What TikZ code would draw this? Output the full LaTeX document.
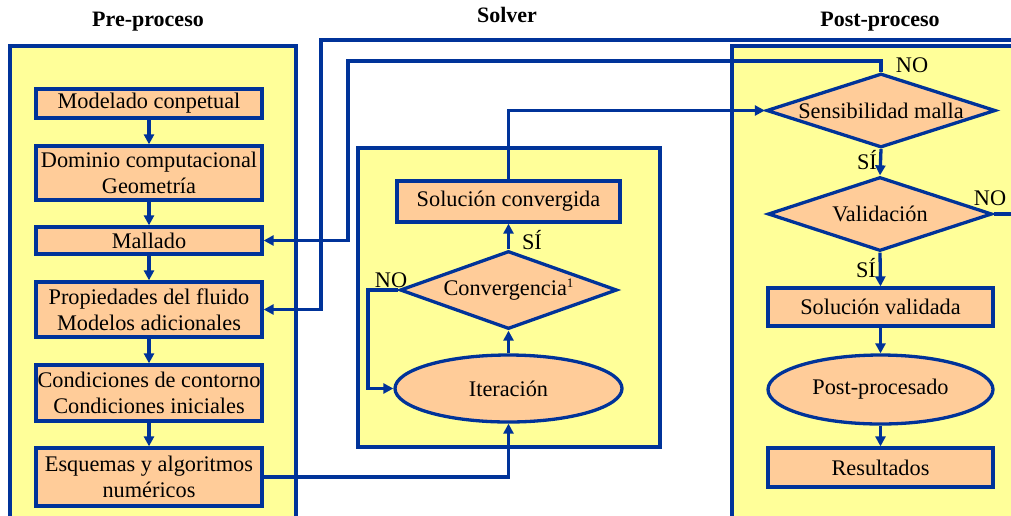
\documentclass[tikz,border=0pt]{standalone}
\usepackage{fontspec}
\setmainfont{Liberation Serif}
\usetikzlibrary{shapes.geometric,arrows.meta}
\definecolor{bl}{RGB}{0,51,153}
\definecolor{yel}{RGB}{255,255,153}
\definecolor{org}{RGB}{255,204,153}
\begin{document}
\begin{tikzpicture}[x=1pt,y=-1pt,
  every node/.style={font=\fontsize{22.3}{26}\selectfont, inner sep=0pt},
  ttl/.style={font=\bfseries\fontsize{22}{26}\selectfont},
  cont/.style={draw=bl, line width=3.3pt, fill=yel},
  pbox/.style={draw=bl, line width=3.3pt, fill=org, align=center, minimum width=226pt},
  decis/.style={draw=bl, line width=3.3pt, fill=org, diamond, inner sep=0pt},
  oval/.style={draw=bl, line width=3.3pt, fill=org, ellipse, inner sep=0pt},
  arr/.style={draw=bl, line width=3.3pt, -{Triangle[length=10pt,width=10pt]}},
  lbl/.style={font=\fontsize{22.3}{26}\selectfont}
]
\useasboundingbox (0,0) rectangle (1011,515);
% titles
\node[ttl] (t1) at (148,22) {Pre-proceso};
\node[ttl] (t2) at (507,15) {Solver};
\node[ttl] (t3) at (880,22) {Post-proceso};
% containers
\draw[cont] (10,46) rectangle (296,525);
\draw[cont] (358,148) rectangle (660,447);
\draw[cont] (732,46) rectangle (1040,525);
% pre-proceso boxes
\node[pbox, minimum height=29pt] (m1) at (149,103.5) {Modelado conpetual};
\node[pbox, minimum height=54pt] (m2) at (149,173) {Dominio computacional\\Geometría};
\node[pbox, minimum height=27pt] (m3) at (149,240.5) {Mallado};
\node[pbox, minimum height=55pt] (m4) at (149,309.5) {Propiedades del fluido\\Modelos adicionales};
\node[pbox, minimum height=56pt] (m5) at (149,393) {Condiciones de contorno\\Condiciones iniciales};
\node[pbox, minimum height=58pt] (m6) at (149,477) {Esquemas y algoritmos\\numéricos};
\draw[arr] (m1.south) -- (m2.north);
\draw[arr] (m2.south) -- (m3.north);
\draw[arr] (m3.south) -- (m4.north);
\draw[arr] (m4.south) -- (m5.north);
\draw[arr] (m5.south) -- (m6.north);
% solver
\node[pbox, minimum width=223pt, minimum height=41pt] (sc) at (508.5,201.5) {Solución convergida};
\node[decis, minimum width=217pt, minimum height=78pt, label={center:Convergencia\raisebox{0.35em}{\fontsize{13}{13}\selectfont 1}}] (cv) at (508.5,290) {};
\node[oval, minimum width=227pt, minimum height=67pt] (it) at (508.5,388.5) {Iteración};
\coordinate (cvl) at (368,290);
\draw[arr] (m6.east) -| (it.south);
\draw[arr] (it.north) -- (cv.south);
\draw[arr] (cv.north) -- (sc.south);
\draw[arr] (cv.west) -- (cvl) |- (it.west);
\node[lbl] (si1) at (532,240) {SÍ};
\node[lbl] (no1) at (391,280) {NO};
% post-proceso
\node[decis, minimum width=229pt, minimum height=74pt, label={center:Sensibilidad malla}] (sm) at (881,110.5) {};
\node[decis, minimum width=224pt, minimum height=74pt, label={center:Validación}] (va) at (880,214) {};
\node[pbox, minimum width=225pt, minimum height=38pt] (sv) at (880.5,307) {Solución validada};
\node[oval, minimum width=225pt, minimum height=69pt] (pp) at (880.5,389.5) {Post-procesado};
\node[pbox, minimum width=225pt, minimum height=39pt] (rs) at (880.5,467.5) {Resultados};
\draw[arr] (sc.north) |- (sm.west);
\draw[arr] (sm.south) -- (va.north);
\draw[arr] (va.south) -- (sv.north);
\draw[arr] (sv.south) -- (pp.north);
\draw[arr] (pp.south) -- (rs.north);
\node[lbl] (si2) at (867,160) {SÍ};
\node[lbl] (si3) at (866,268) {SÍ};
\node[lbl] (no2) at (912,65) {NO};
\node[lbl] (no3) at (990,198) {NO};
% feedback loops
\coordinate (a1) at (881,61);
\coordinate (a2) at (348,61);
\draw[arr] (sm.north) -- (a1) -- (a2) |- (m3.east);
\coordinate (b1) at (1025,214);
\coordinate (b2) at (1025,40);
\coordinate (b3) at (321,40);
\draw[arr] (va.east) -- (b1) -- (b2) -- (b3) |- (m4.east);
\end{tikzpicture}
\end{document}
